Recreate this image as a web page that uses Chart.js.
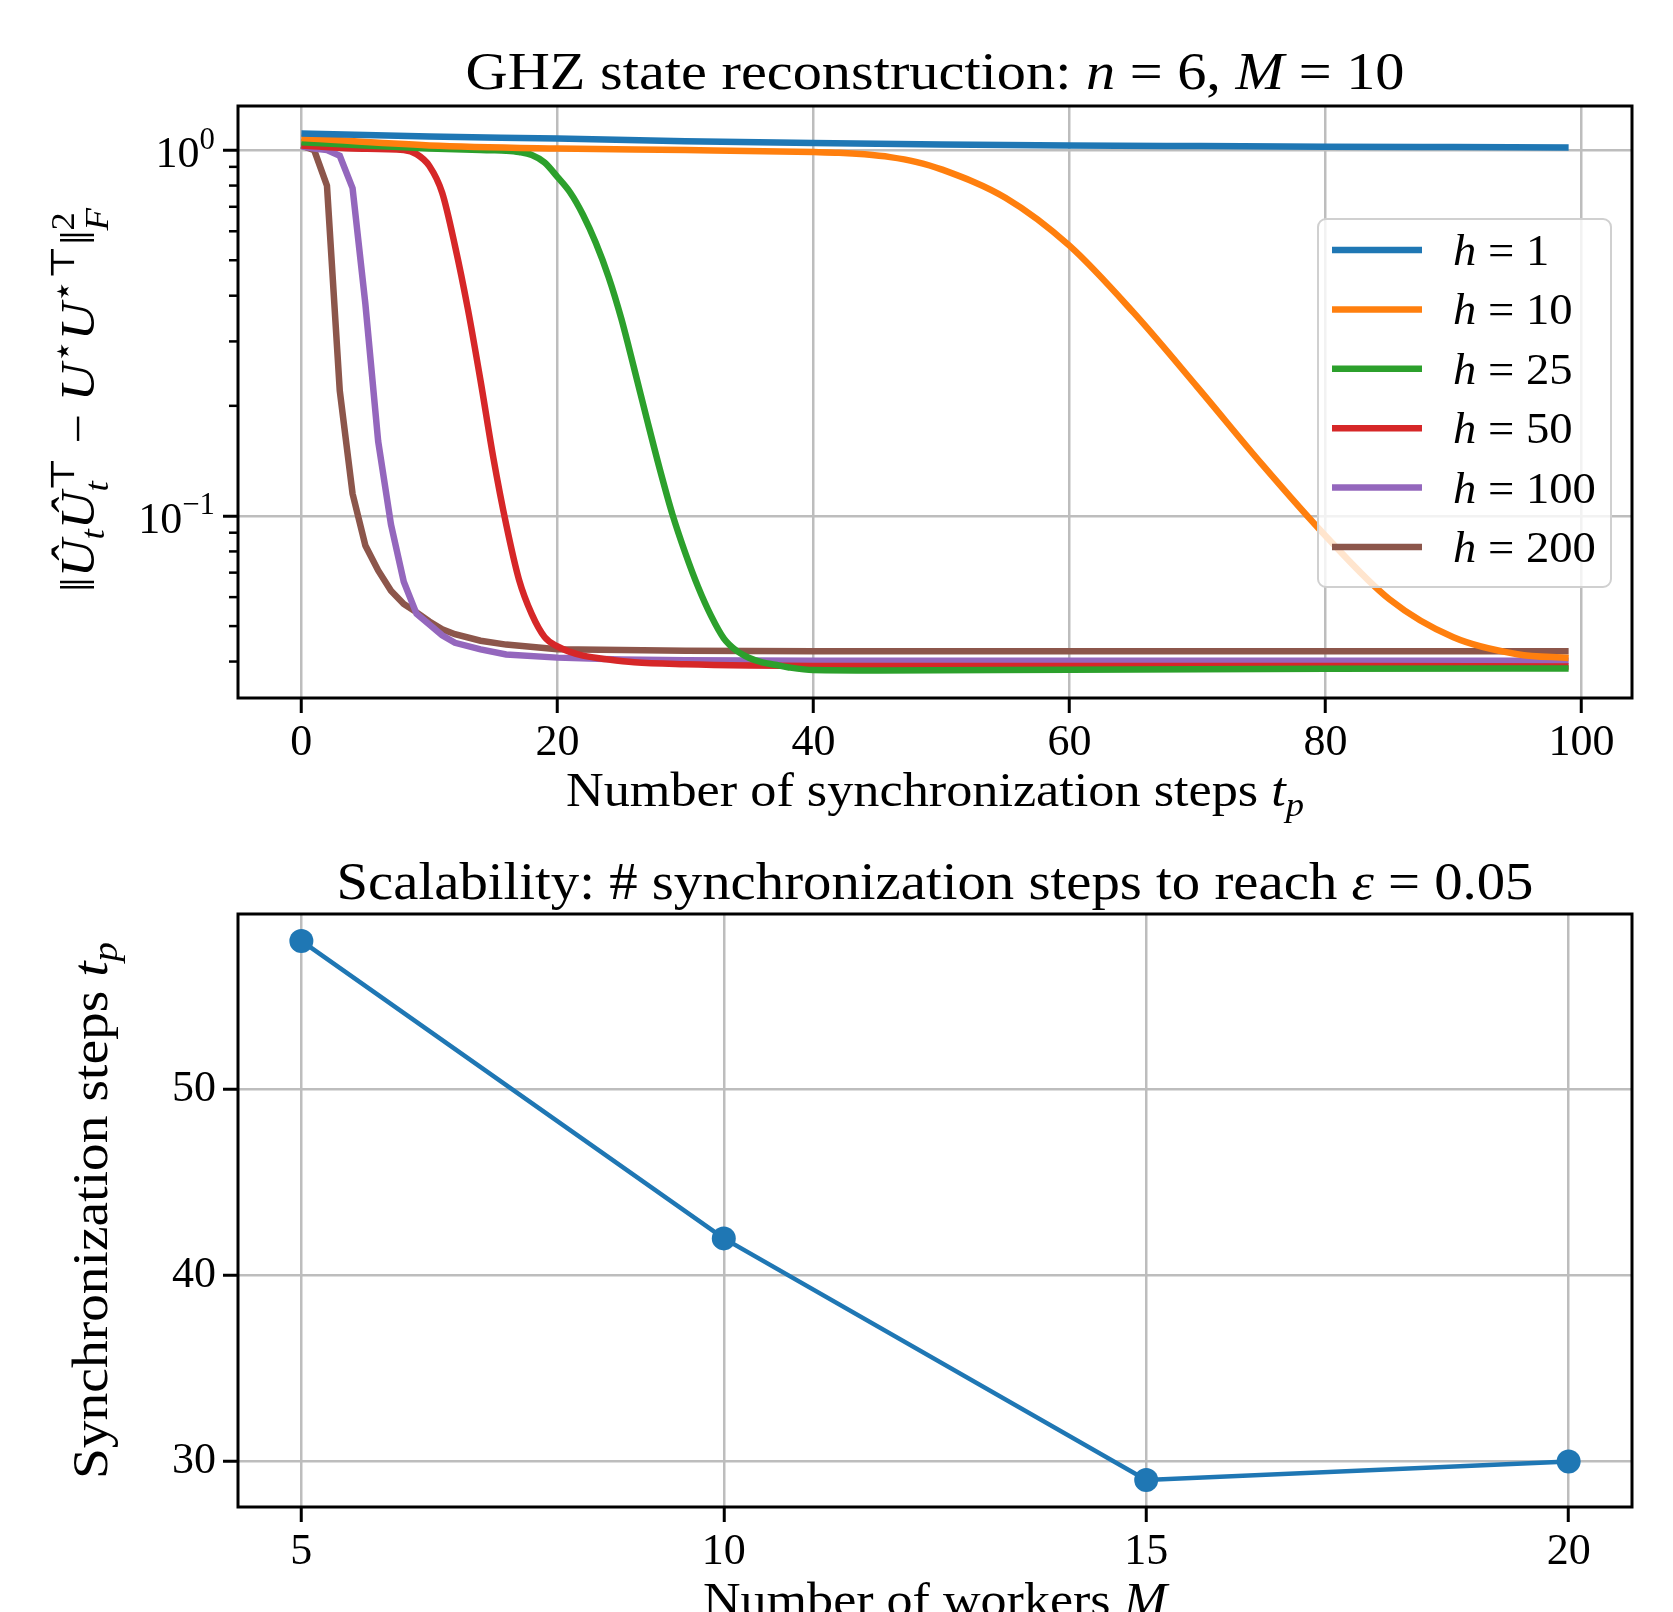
<!DOCTYPE html>
<html>
<head>
<meta charset="utf-8">
<script src="https://cdn.jsdelivr.net/npm/chart.js@4.4.1/dist/chart.umd.min.js"></script>
<style>
  html, body { margin: 0; padding: 0; background: #fff; }
  #wrap { position: relative; width: 1673px; height: 1612px; overflow: hidden; background: #fff; }
  #wrap canvas { position: absolute; left: 0; top: 0; }
</style>
</head>
<body>
<div id="wrap">
  <canvas id="topChart" width="1673" height="1612"></canvas>
  <canvas id="bottomChart" width="1673" height="1612"></canvas>
</div>
<script>
// ---- data: top plot (error vs synchronization step t_p, one series per h) ----
const hLabels = ['1', '10', '25', '50', '100', '200'];

const tBlue = [0, 10, 20, 30, 40, 50, 60, 70, 80, 90, 99];
const errBlue = [1.11, 1.09, 1.075, 1.058, 1.045, 1.036, 1.030, 1.026, 1.022, 1.019, 1.017];

const tOrange = [0, 10, 20, 30, 40, 42, 44, 46, 48, 50, 55, 60, 65, 70, 75, 80, 85, 90, 95, 99];
const errOrange = [1.08, 1.03, 1.01, 1.0, 0.988, 0.984, 0.974, 0.957, 0.929, 0.886, 0.741, 0.548, 0.360, 0.225, 0.139, 0.0883, 0.0592, 0.0466, 0.0419, 0.0409];

const tGreen = [0, 5, 10, 14, 15, 16, 17, 18, 19, 20, 21, 22, 23, 24, 25, 26, 27, 28, 29, 30, 31, 32, 33, 34, 35, 36, 37, 38, 40, 45, 60, 80, 99];
const errGreen = [1.05, 1.03, 1.01, 1.0, 0.999, 0.996, 0.988, 0.970, 0.925, 0.845, 0.766, 0.666, 0.558, 0.450, 0.3455, 0.2528, 0.1835, 0.1343, 0.1007, 0.0791, 0.0639, 0.0534, 0.0463, 0.0428, 0.0409, 0.0398, 0.0392, 0.0386, 0.0379, 0.0378, 0.038, 0.0382, 0.0383];

const tRed = [0, 4, 8, 9, 10, 11, 12, 13, 14, 15, 16, 17, 18, 19, 20, 21, 22, 24, 26, 30, 35, 40, 60, 80, 99];
const errRed = [1.03, 1.01, 1.0, 0.975, 0.905, 0.765, 0.548, 0.369, 0.234, 0.144, 0.0948, 0.067, 0.0539, 0.0467, 0.044, 0.0425, 0.0415, 0.0405, 0.0398, 0.0393, 0.039, 0.0389, 0.0389, 0.0389, 0.0388];

const tPurple = [0, 1, 2, 3, 4, 5, 6, 7, 8, 9, 10, 11, 12, 14, 16, 20, 25, 30, 40, 60, 80, 99];
const errPurple = [1.024, 1.01, 1.0, 0.965, 0.787, 0.38, 0.16, 0.0948, 0.0661, 0.054, 0.0505, 0.0472, 0.045, 0.0432, 0.0418, 0.041, 0.0405, 0.0403, 0.0402, 0.0402, 0.0402, 0.0402];

const tBrown = [0, 1, 2, 3, 4, 5, 6, 7, 8, 9, 10, 11, 12, 14, 16, 20, 30, 40, 60, 80, 99];
const errBrown = [1.03, 1.0, 0.80, 0.22, 0.115, 0.083, 0.071, 0.0625, 0.0575, 0.0545, 0.0515, 0.049, 0.0475, 0.0456, 0.0445, 0.0432, 0.0428, 0.0427, 0.0427, 0.0427, 0.0427];

const xTicksTop = [0, 20, 40, 60, 80, 100];
const yTicksTop = [0.1, 1];
const yTickExp = ['\u22121', '0'];
const yMinorTop = [0.04, 0.05, 0.06, 0.07, 0.08, 0.09, 0.2, 0.3, 0.4, 0.5, 0.6, 0.7, 0.8, 0.9];

// ---- data: bottom plot (steps needed to reach eps = 0.05 vs number of workers) ----
const workers = [5, 10, 15, 20];
const syncSteps = [58, 42, 29, 30];
const xTicksBottom = [5, 10, 15, 20];
const yTicksBottom = [30, 40, 50];

// ---- text helpers ----
const SERIF = '"Liberation Serif", "DejaVu Serif", serif';
function fontOf(size, italic) { return (italic ? 'italic ' : '') + size + 'px ' + SERIF; }

function partWidth(ctx, p, size) {
  ctx.font = fontOf(size, p.i);
  let w = ctx.measureText(p.t).width, s = 0;
  if (p.sup) { ctx.font = fontOf(size * 0.7, p.sup.i); s = Math.max(s, ctx.measureText(p.sup.t).width); }
  if (p.sub) { ctx.font = fontOf(size * 0.7, p.sub.i); s = Math.max(s, ctx.measureText(p.sub.t).width); }
  return w + s;
}

// draws a line of mixed roman/italic text with sub/superscripts, baseline at o.y
function drawRich(ctx, parts, o) {
  ctx.save();
  ctx.translate(o.x, o.y);
  if (o.rotate) ctx.rotate(-Math.PI / 2);
  let total = 0;
  parts.forEach(p => total += partWidth(ctx, p, o.size));
  const sx = o.width ? o.width / total : (o.stretch || 1);
  ctx.scale(sx, 1);
  let x = o.align === 'center' ? -total / 2 : o.align === 'right' ? -total : 0;
  ctx.fillStyle = '#000';
  ctx.textAlign = 'left';
  ctx.textBaseline = 'alphabetic';
  const small = o.size * 0.7;
  parts.forEach(p => {
    ctx.font = fontOf(o.size, p.i);
    ctx.fillText(p.t, x, 0);
    x += ctx.measureText(p.t).width;
    let s = 0;
    if (p.sup) {
      ctx.font = fontOf(small, p.sup.i);
      ctx.fillText(p.sup.t, x, -o.size * 0.42);
      s = ctx.measureText(p.sup.t).width;
    }
    if (p.sub) {
      ctx.font = fontOf(small, p.sub.i);
      ctx.fillText(p.sub.t, x, o.size * (p.sup ? 0.3 : 0.2));
      s = Math.max(s, ctx.measureText(p.sub.t).width);
    }
    x += s;
  });
  ctx.restore();
}

function zip(xs, ys) { return xs.map((x, k) => ({ x: x, y: ys[k] })); }

const gridStyle = { color: '#bdbdbd', lineWidth: 2.5, tickLength: 15, tickColor: '#000', tickWidth: 3 };
const tickFont = { family: SERIF, size: 44 };

// ---- top chart ----
const topDecor = {
  id: 'topDecor',
  afterDatasetsDraw(chart) {
    const ctx = chart.ctx, a = chart.chartArea, ys = chart.scales.y;
    ctx.save();
    ctx.strokeStyle = '#000';
    ctx.lineWidth = 2.5;
    yMinorTop.forEach(v => {
      const py = ys.getPixelForValue(v);
      ctx.beginPath(); ctx.moveTo(a.left - 9, py); ctx.lineTo(a.left, py); ctx.stroke();
    });
    ctx.lineWidth = 3;
    ctx.strokeRect(a.left, a.top, a.right - a.left, a.bottom - a.top);

    // legend
    const lx = a.right - 314, ly = a.top + 113, lw = 293, lh = 368;
    ctx.fillStyle = 'rgba(255,255,255,0.8)';
    ctx.strokeStyle = '#d0d0d0';
    ctx.lineWidth = 2;
    ctx.beginPath();
    ctx.roundRect(lx, ly, lw, lh, 8);
    ctx.fill(); ctx.stroke();
    chart.data.datasets.forEach((ds, k) => {
      const ry = ly + 31 + k * 59.4;
      ctx.strokeStyle = ds.borderColor;
      ctx.lineWidth = 6.5;
      ctx.beginPath(); ctx.moveTo(lx + 14, ry); ctx.lineTo(lx + 104, ry); ctx.stroke();
      drawRich(ctx, [{ t: 'h', i: true }, { t: ' = ' + hLabels[k] }], { x: lx + 135, y: ry + 15, size: 44, stretch: 1.06 });
    });
    ctx.restore();

    // y tick labels 10^k
    yTicksTop.forEach((v, k) => {
      drawRich(ctx, [{ t: '10', sup: { t: yTickExp[k] } }], { x: a.left - 23, y: ys.getPixelForValue(v) + 17, size: 44, align: 'right' });
    });

    drawRich(ctx, [{ t: 'GHZ state reconstruction: ' }, { t: 'n', i: true }, { t: ' = 6, ' }, { t: 'M', i: true }, { t: ' = 10' }],
      { x: (a.left + a.right) / 2, y: a.top - 17, size: 53, align: 'center', width: 939 });
    drawRich(ctx, [{ t: 'Number of synchronization steps ' }, { t: 't', i: true, sub: { t: 'p', i: true } }],
      { x: (a.left + a.right) / 2, y: a.bottom + 108, size: 48, align: 'center', width: 738 });
    drawRich(ctx, [
      { t: '\u2016' },
      { t: '\u00DB', i: true, sub: { t: 't', i: true } },
      { t: '\u00DB', i: true, sub: { t: 't', i: true }, sup: { t: '\u22A4' } },
      { t: ' \u2212 ' },
      { t: 'U', i: true, sup: { t: '\u22C6' } },
      { t: 'U', i: true, sup: { t: '\u22C6\u22A4' } },
      { t: '\u2016', sup: { t: '2' }, sub: { t: 'F', i: true } }
    ], { x: 94, y: 400, size: 48, align: 'center', rotate: true, width: 384 });
  }
};

new Chart(document.getElementById('topChart'), {
  type: 'line',
  data: {
    datasets: [
      { data: zip(tBlue, errBlue), borderColor: '#1f77b4', cubicInterpolationMode: 'monotone' },
      { data: zip(tOrange, errOrange), borderColor: '#ff7f0e', cubicInterpolationMode: 'monotone' },
      { data: zip(tGreen, errGreen), borderColor: '#2ca02c', cubicInterpolationMode: 'monotone' },
      { data: zip(tRed, errRed), borderColor: '#d62728', cubicInterpolationMode: 'monotone' },
      { data: zip(tPurple, errPurple), borderColor: '#9467bd', tension: 0 },
      { data: zip(tBrown, errBrown), borderColor: '#8c564b', tension: 0 }
    ].map(ds => Object.assign({ borderWidth: 6.5, pointRadius: 0, fill: false, borderCapStyle: 'butt' }, ds))
  },
  options: {
    responsive: false,
    animation: false,
    layout: { padding: { top: 106, right: 41, left: 0, bottom: 0 } },
    plugins: { legend: { display: false }, tooltip: { enabled: false } },
    scales: {
      x: {
        type: 'linear', min: -4.95, max: 103.95,
        afterBuildTicks: ax => { ax.ticks = xTicksTop.map(v => ({ value: v })); },
        afterFit: ax => { ax.height = 914; },
        grid: gridStyle,
        border: { display: false },
        ticks: { font: tickFont, color: '#000', padding: 4, maxRotation: 0, autoSkip: false }
      },
      y: {
        type: 'logarithmic', min: 0.0318, max: 1.32,
        afterBuildTicks: ax => { ax.ticks = yTicksTop.map(v => ({ value: v, major: true })); },
        afterFit: ax => { ax.width = 238; },
        grid: gridStyle,
        border: { display: false },
        ticks: { display: false }
      }
    }
  },
  plugins: [topDecor]
});

// ---- bottom chart ----
const bottomDecor = {
  id: 'bottomDecor',
  afterDatasetsDraw(chart) {
    const ctx = chart.ctx, a = chart.chartArea;
    ctx.save();
    ctx.strokeStyle = '#000';
    ctx.lineWidth = 3;
    ctx.strokeRect(a.left, a.top, a.right - a.left, a.bottom - a.top);
    ctx.restore();
    drawRich(ctx, [{ t: 'Scalability: # synchronization steps to reach ' }, { t: '\u03B5', i: true }, { t: ' = 0.05' }],
      { x: (a.left + a.right) / 2, y: a.top - 15, size: 53, align: 'center', width: 1197 });
    drawRich(ctx, [{ t: 'Number of workers ' }, { t: 'M', i: true }],
      { x: (a.left + a.right) / 2, y: a.bottom + 109, size: 48, align: 'center', width: 464 });
    drawRich(ctx, [{ t: 'Synchronization steps ' }, { t: 't', i: true, sub: { t: 'p', i: true } }],
      { x: 107, y: (a.top + a.bottom) / 2, size: 50, align: 'center', rotate: true, width: 537 });
  }
};

new Chart(document.getElementById('bottomChart'), {
  type: 'line',
  data: {
    datasets: [{
      data: zip(workers, syncSteps),
      borderColor: '#1f77b4', backgroundColor: '#1f77b4',
      borderWidth: 4.5, pointRadius: 12, pointBorderWidth: 0, pointHoverRadius: 12,
      tension: 0, fill: false
    }]
  },
  options: {
    responsive: false,
    animation: false,
    layout: { padding: { top: 914, right: 41, left: 0, bottom: 0 } },
    plugins: { legend: { display: false }, tooltip: { enabled: false } },
    scales: {
      x: {
        type: 'linear', min: 4.25, max: 20.75,
        afterBuildTicks: ax => { ax.ticks = xTicksBottom.map(v => ({ value: v })); },
        afterFit: ax => { ax.height = 105; },
        grid: gridStyle,
        border: { display: false },
        ticks: { font: tickFont, color: '#000', padding: 4, maxRotation: 0, autoSkip: false }
      },
      y: {
        type: 'linear', min: 27.55, max: 59.45,
        afterBuildTicks: ax => { ax.ticks = yTicksBottom.map(v => ({ value: v })); },
        afterFit: ax => { ax.width = 238; },
        grid: gridStyle,
        border: { display: false },
        ticks: { font: tickFont, color: '#000', padding: 7 }
      }
    }
  },
  plugins: [bottomDecor]
});
</script>
</body>
</html>
